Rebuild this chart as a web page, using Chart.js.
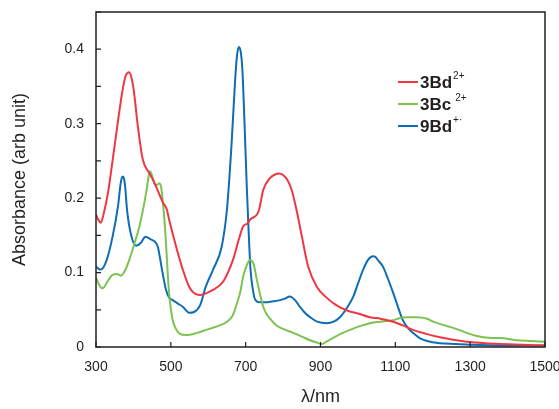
<!DOCTYPE html>
<html>
<head>
<meta charset="utf-8">
<script src="https://cdn.jsdelivr.net/npm/chart.js@4.4.1/dist/chart.umd.min.js"></script>
<style>
  html, body { margin: 0; padding: 0; background: #fff; }
  #wrap { width: 559px; height: 409px; }
</style>
</head>
<body>
<div id="wrap"><canvas id="chart"></canvas></div>
<script>
// wavelength (nm) / absorbance
const wl3Bd = [300, 305, 313, 320, 332, 351, 370, 379, 384, 388, 393, 400, 412, 425, 442, 451, 460, 478, 489, 496, 505, 514, 532, 549, 567, 580, 594, 610, 640, 666, 682, 693, 705, 712, 735, 747, 765, 780, 790, 800, 812, 823, 836, 850, 867, 890, 917, 940, 971, 1000, 1032, 1060, 1094, 1120, 1147, 1180, 1219, 1250, 1291, 1340, 1380, 1440, 1500];
const abs3Bd = [0.178, 0.172, 0.167, 0.178, 0.207, 0.275, 0.342, 0.364, 0.368, 0.369, 0.365, 0.348, 0.296, 0.252, 0.234, 0.226, 0.216, 0.195, 0.185, 0.170, 0.152, 0.135, 0.104, 0.081, 0.071, 0.070, 0.072, 0.076, 0.088, 0.117, 0.145, 0.162, 0.166, 0.171, 0.183, 0.211, 0.227, 0.232, 0.233, 0.231, 0.224, 0.211, 0.184, 0.149, 0.108, 0.081, 0.066, 0.057, 0.049, 0.045, 0.040, 0.038, 0.034, 0.029, 0.023, 0.018, 0.013, 0.010, 0.007, 0.005, 0.004, 0.003, 0.002];

const wl3Bc = [300, 310, 318, 332, 344, 356, 367, 378, 389, 402, 416, 434, 441, 444, 448, 453, 458, 464, 469, 474, 478, 483, 487, 494, 499, 505, 514, 523, 541, 570, 594, 625, 650, 665, 677, 686, 693, 703, 709, 712, 716, 721, 730, 738, 747, 755, 765, 780, 792, 827, 850, 872, 890, 904, 918, 933, 955, 979, 1005, 1032, 1060, 1094, 1112, 1131, 1158, 1185, 1201, 1225, 1246, 1270, 1291, 1315, 1335, 1360, 1380, 1425, 1460, 1500];
const abs3Bc = [0.093, 0.082, 0.079, 0.089, 0.097, 0.098, 0.096, 0.103, 0.117, 0.138, 0.162, 0.207, 0.230, 0.236, 0.233, 0.224, 0.218, 0.218, 0.220, 0.215, 0.198, 0.170, 0.140, 0.081, 0.055, 0.036, 0.024, 0.018, 0.016, 0.019, 0.023, 0.028, 0.034, 0.042, 0.059, 0.075, 0.094, 0.110, 0.116, 0.117, 0.116, 0.112, 0.090, 0.072, 0.054, 0.045, 0.038, 0.030, 0.026, 0.019, 0.014, 0.009, 0.006, 0.004, 0.008, 0.012, 0.018, 0.023, 0.028, 0.032, 0.034, 0.036, 0.039, 0.040, 0.040, 0.038, 0.034, 0.030, 0.027, 0.023, 0.019, 0.015, 0.013, 0.012, 0.012, 0.009, 0.008, 0.007];

const wl9Bd = [300, 307, 313, 328, 345, 359, 366, 369, 372, 375, 378, 383, 395, 407, 420, 432, 445, 456, 465, 476, 487, 496, 505, 520, 532, 549, 562, 578, 594, 613, 636, 650, 662, 672, 677, 682, 687, 691, 697, 703, 708, 713, 719, 725, 738, 752, 770, 792, 805, 818, 832, 845, 860, 875, 891, 917, 935, 952, 970, 987, 1000, 1014, 1027, 1035, 1041, 1047, 1053, 1067, 1080, 1094, 1107, 1120, 1133, 1147, 1165, 1185, 1219, 1260, 1300, 1400, 1500];
const abs9Bd = [0.108, 0.105, 0.104, 0.116, 0.150, 0.190, 0.220, 0.227, 0.229, 0.226, 0.215, 0.184, 0.148, 0.136, 0.140, 0.148, 0.145, 0.142, 0.135, 0.105, 0.077, 0.066, 0.063, 0.058, 0.054, 0.046, 0.047, 0.056, 0.082, 0.104, 0.135, 0.185, 0.270, 0.360, 0.392, 0.403, 0.396, 0.375, 0.300, 0.215, 0.155, 0.104, 0.078, 0.064, 0.060, 0.060, 0.061, 0.063, 0.065, 0.068, 0.063, 0.054, 0.045, 0.039, 0.034, 0.032, 0.034, 0.040, 0.052, 0.067, 0.085, 0.104, 0.117, 0.121, 0.122, 0.121, 0.117, 0.108, 0.092, 0.073, 0.054, 0.036, 0.026, 0.019, 0.012, 0.008, 0.005, 0.004, 0.003, 0.002, 0.002];

const xTicks = [300, 500, 700, 900, 1100, 1300, 1500];

const INK = '#231f20';
const FONT = "'Liberation Sans', Arial, sans-serif";

function pts(xs, ys) {
  return xs.map((x, i) => ({ x: x, y: ys[i] }));
}

const series = [
  { name: '3Bd', sup: '2+', supGap: 1, color: '#ee3742', data: pts(wl3Bd, abs3Bd) },
  { name: '3Bc', sup: '2+', supGap: 4, color: '#7cc353', data: pts(wl3Bc, abs3Bc) },
  { name: '9Bd', sup: '+\u00b7', supGap: 1, color: '#0f6db5', data: pts(wl9Bd, abs9Bd) }
];

// box frame, inward tick marks and the superscript legend
const framePlugin = {
  id: 'frame',
  afterDraw(chart) {
    const { ctx, chartArea: a, scales } = chart;
    ctx.save();
    ctx.strokeStyle = INK;
    ctx.lineWidth = 1.5;
    ctx.strokeRect(a.left, a.top, a.right - a.left, a.bottom - a.top);

    ctx.lineWidth = 1.2;
    ctx.beginPath();
    scales.x.ticks.forEach(t => {
      const px = scales.x.getPixelForValue(t.value);
      ctx.moveTo(px, a.bottom);
      ctx.lineTo(px, a.bottom - 5);
    });
    scales.y.ticks.forEach(t => {
      const py = scales.y.getPixelForValue(t.value);
      ctx.moveTo(a.left, py);
      ctx.lineTo(a.left + 5, py);
    });
    ctx.stroke();

    const lg = chart.options.plugins.frame;
    series.forEach((s, i) => {
      const y = lg.y + i * lg.step;
      ctx.strokeStyle = s.color;
      ctx.lineWidth = 2;
      ctx.beginPath();
      ctx.moveTo(lg.x, y);
      ctx.lineTo(lg.x + 20, y);
      ctx.stroke();

      ctx.fillStyle = INK;
      ctx.textBaseline = 'middle';
      ctx.textAlign = 'left';
      ctx.font = `bold 17px ${FONT}`;
      ctx.fillText(s.name, lg.x + 22, y + 1);
      const w = ctx.measureText(s.name).width;
      ctx.font = `10px ${FONT}`;
      ctx.fillText(s.sup, lg.x + 22 + w + s.supGap, y - 6);
    });
    ctx.restore();
  }
};

new Chart(document.getElementById('chart'), {
  type: 'line',
  data: {
    datasets: series.map(s => ({
      label: s.name,
      data: s.data,
      borderColor: s.color,
      borderWidth: 2,
      pointRadius: 0,
      fill: false,
      cubicInterpolationMode: 'monotone'
    }))
  },
  options: {
    responsive: true,
    maintainAspectRatio: false,
    animation: false,
    events: [],
    layout: { padding: { left: 0, right: 14, top: 12, bottom: 0 } },
    plugins: {
      legend: { display: false },
      tooltip: { enabled: false },
      frame: { x: 398, y: 82, step: 22 }
    },
    scales: {
      x: {
        type: 'linear',
        min: 300,
        max: 1500,
        afterBuildTicks: s => { s.ticks = xTicks.map(v => ({ value: v })); },
        afterFit: s => { s.height = 62; s.paddingLeft = 0; s.paddingRight = 0; },
        grid: { display: false, drawTicks: false },
        border: { display: false },
        ticks: { color: INK, font: { family: FONT, size: 14 }, padding: 12, maxRotation: 0, callback: v => String(v) },
        title: { display: true, text: '\u03bb/nm', color: INK, font: { family: FONT, size: 18 }, padding: { top: 0, bottom: 1 } }
      },
      y: {
        min: 0,
        max: 0.45,
        afterFit: s => { s.width = 96; s.paddingTop = 0; s.paddingBottom = 0; },
        grid: { display: false, drawTicks: false },
        border: { display: false },
        ticks: {
          stepSize: 0.05,
          color: INK,
          font: { family: FONT, size: 14 },
          padding: 12,
          callback: v => {
            const t = Math.round(v * 20);
            return t % 2 === 0 ? String(t / 20) : '';
          }
        },
        title: { display: true, text: 'Absorbance (arb unit)', color: INK, font: { family: FONT, size: 18 }, padding: { top: 9, bottom: 0 } }
      }
    }
  },
  plugins: [framePlugin]
});
</script>
</body>
</html>
